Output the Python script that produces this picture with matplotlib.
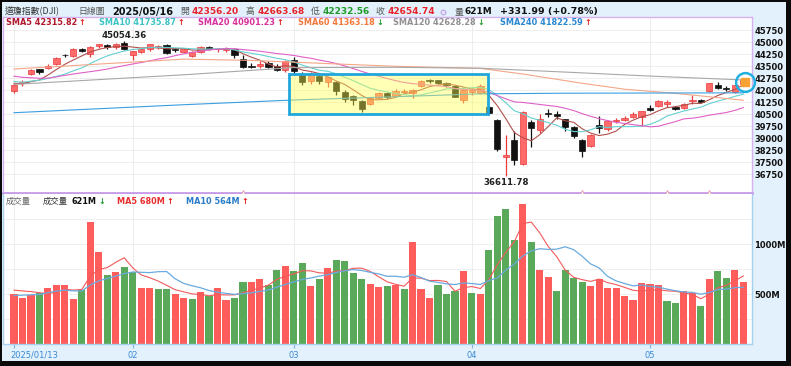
import matplotlib
matplotlib.use("Agg")
import matplotlib.pyplot as plt
import matplotlib.transforms as mtrans
import numpy as np
import pandas as pd
from matplotlib.patches import Rectangle

W, H = 791, 366
plt.rcParams['font.family'] = ['DejaVu Sans', 'Noto Sans CJK TC']
CJK = ['Noto Sans CJK TC', 'DejaVu Sans']

# ---------------- data ----------------
prior_closes = [43914, 43828, 43717, 43450, 42327, 42342, 42840, 42906, 43297, 43325,
                42992, 42574, 42544, 42392, 42732, 42706, 42528, 42635, 41938]
prior_volumes = [420, 450, 470, 380, 430, 500, 520, 560, 610]

opens = [41950, 42420, 42990, 43290, 43370, 43600, 44180, 44150, 44560, 44220, 44720, 44800, 44700, 44920,
         44200, 44400, 44560, 44700, 44790, 44560, 44400, 44150, 44370, 44700, 44540, 44500, 44550, 43950,
         43500, 43530, 43660, 43520, 43260,
         43900, 42940, 42560, 42900, 42520, 42500, 41850, 41600, 41300, 41100, 41500, 41790, 41640, 41870,
         41800, 42250, 42600, 42600, 42440, 42250, 41400,
         41900, 41800, 40960, 40100, 37800, 38900, 37400, 40000, 39500, 40560, 40500, 40170, 39700, 38900,
         38500, 39800, 39550, 40050, 40150, 40300, 40300,
         40900, 41000, 41150, 40950, 40900, 41300, 41370, 41950, 42300, 42150, 41850, 42356.20]
highs = [42350, 42630, 43300, 43330, 43610, 44050, 44250, 44600, 44640, 44760, 44900, 44870, 44950, 45054.36,
         44450, 44600, 44900, 44830, 44900, 44620, 44620, 44420, 44720, 44770, 44640, 44700, 44600, 44200,
         43700, 43800, 43800, 43650, 43880,
         44050, 43100, 43150, 43000, 42900, 42560, 42000, 41700, 41350, 41550, 41900, 41900, 42050, 42050,
         42050, 42650, 42700, 42650, 42500, 42300, 42100,
         42100, 42380, 41000, 40170, 39207, 39420, 40700, 40100, 40500, 40790, 40700, 40200, 39760, 38950,
         39250, 40375, 40150, 40250, 40350, 40600, 40700,
         41050, 41400, 41350, 40980, 41200, 41700, 41450, 42420, 42470, 42250, 42330, 42663.68]
lows = [41840, 42230, 42950, 43030, 43300, 43550, 44050, 44080, 44370, 44050, 44610, 44540, 44560, 44520,
        43880, 44300, 44450, 44580, 44250, 44380, 44370, 44080, 44300, 44500, 44380, 44380, 43980, 43380,
        43380, 43350, 43350, 43200, 43150,
        42970, 42300, 42380, 42350, 42200, 41690, 41250, 41060, 40650, 41050, 41450, 41450, 41600, 41800,
        41480, 42200, 42450, 42350, 42200, 41550, 41170,
        41700, 41750, 40500, 38200, 36611.78, 37300, 37300, 38460, 39300, 40290, 40200, 39440, 38980, 37830,
        38450, 39300, 39450, 39950, 40050, 40250, 39750,
        40700, 40950, 40950, 40750, 40800, 41100, 41200, 41900, 42050, 41950, 41800, 42232.56]
closes = [42297, 42518, 43221, 43153, 43488, 44025, 44157, 44566, 44424, 44713, 44850, 44714, 44882, 44545,
          44421, 44556, 44873, 44747, 44303, 44470, 44593, 44368, 44711, 44546, 44556, 44628, 44177, 43428,
          43461, 43621, 43433, 43240, 43841,
          43191, 42520, 43006, 42579, 42802, 41912, 41433, 41350, 40813, 41488, 41841, 41581, 41965, 41953,
          41985, 42583, 42587, 42455, 42300, 41584, 42002,
          41989, 42226, 40546, 38315, 37966, 37646, 40608, 39594, 40213, 40525, 40369, 39669, 39142, 38170,
          39187, 39607, 40093, 40114, 40228, 40528, 40669,
          40753, 41317, 41219, 40829, 41114, 41368, 41249, 42410, 42141, 42051, 42323, 42654.74]
volumes = [503, 460, 486, 506, 556, 593, 590, 453, 536, 1223, 916, 693, 716, 766, 716, 563, 556, 546, 553, 496,
           460, 450, 520, 483, 556, 443, 456, 623, 620, 653, 593, 743, 783, 733, 813, 583, 646, 763, 840, 826,
           713, 650, 603, 570, 576, 586,
           553, 1020, 553, 460, 593, 500, 533, 733, 513, 496, 943, 1283, 1350, 1043, 1403, 1020, 740, 670, 533,
           736, 656, 623, 583, 646, 560, 560, 483, 436, 610, 596, 590, 426, 413, 533, 513, 380, 653, 730, 660,
           736, 621]

sma60_idx = [0, 10, 20, 28, 37, 45, 55, 60, 67, 72, 78, 86]
sma60_val = [43310, 43620, 43930, 43850, 43650, 43480, 43350, 43000, 42420, 42050, 41790, 41363]
sma120_idx = [0, 20, 33, 45, 55, 65, 75, 86]
sma120_val = [42350, 42950, 43400, 43420, 43360, 43120, 42870, 42628]
sma240_idx = [0, 10, 20, 33, 45, 55, 65, 75, 86]
sma240_val = [40580, 40830, 41080, 41375, 41580, 41760, 41800, 41810, 41823]

tick_idx = [0, 14, 33, 54, 75]
tick_lbl = ['2025/01/13', '02', '03', '04', '05']
price_ticks = [36750, 37500, 38250, 39000, 39750, 40500, 41250, 42000, 42750, 43500, 44250, 45000, 45750]
vol_ticks = [500, 1000]
vol_tick_lbl = ['500M', '1000M']
event_idx = [27, 67, 77, 82]
box_x = (32.4, 55.9)
box_y = (40500, 43000)

# ---------------- derived ----------------
n = len(closes)
x = np.arange(n)
o, h, l, c = map(np.array, (opens, highs, lows, closes))
v = np.array(volumes, float)
allc = pd.Series(prior_closes + closes, dtype=float)
sma5 = allc.rolling(5).mean().values[-n:]
sma10 = allc.rolling(10).mean().values[-n:]
sma20 = allc.rolling(20).mean().values[-n:]
allv = pd.Series(prior_volumes + volumes, dtype=float)
vma5 = allv.rolling(5).mean().values[-n:]
vma10 = allv.rolling(10).mean().values[-n:]
prevc = np.array([prior_closes[-1]] + closes[:-1])

# ---------------- figure ----------------
fig = plt.figure(figsize=(W / 100, H / 100), dpi=100)
fig.patch.set_facecolor('#e2f1fb')

def fx(px):
    return px / W

def fy(py):
    return 1 - py / H

XL = (-1.297, 87.03)
ax = fig.add_axes([fx(3), fy(193), 749 / W, 176 / H])
axv = fig.add_axes([fx(3), fy(344), 749 / W, 150 / H])

# price panel
ax.set_facecolor('white')
ax.set_xlim(*XL)
ax.set_ylim(35562.5, 46562.5)
for yv in price_ticks:
    ax.axhline(yv, color='#efefef', lw=0.7, zorder=0)
for xi in tick_idx:
    ax.axvline(xi, color='#ececec', lw=0.7, zorder=0)

RED_F, RED_E, BLK = '#ff6a6a', '#e83a3a', '#111111'
for i in range(n):
    up = c[i] >= o[i]
    ec = RED_E if up else BLK
    fc = RED_F if up else BLK
    ax.vlines(x[i], l[i], h[i], color=ec, lw=0.9, zorder=3)
    bot = min(o[i], c[i])
    ht = max(abs(c[i] - o[i]), 45)
    ax.bar(x[i], ht, bottom=bot, width=0.74, color=fc, edgecolor=ec, lw=0.5, zorder=4)

ax.plot(x, sma5, color='#b0504c', lw=0.8, zorder=5)
ax.plot(x, sma10, color='#66d0d0', lw=0.8, zorder=5)
ax.plot(x, sma20, color='#e060c8', lw=0.8, zorder=5)
ax.plot(sma60_idx, sma60_val, color='#f4a688', lw=0.8, zorder=5)
ax.plot(sma120_idx, sma120_val, color='#a8a8a8', lw=0.8, zorder=5)
ax.plot(sma240_idx, sma240_val, color='#3a9ee0', lw=0.8, zorder=5)

# highlight box
ax.add_patch(Rectangle((box_x[0], box_y[0]), box_x[1] - box_x[0], box_y[1] - box_y[0],
                       facecolor='#ffff50', alpha=0.42, edgecolor='none', zorder=6))
ax.add_patch(Rectangle((box_x[0], box_y[0]), box_x[1] - box_x[0], box_y[1] - box_y[0],
                       facecolor='none', edgecolor='#1fa6dc', lw=2, zorder=7))

# end circle
ax.plot([n - 1 + 0.2], [42520], marker='o', ms=13.5, mfc='none', mec='#22b0e0', mew=1.8,
        zorder=9, clip_on=False)
ax.plot([n - 1 + 0.2], [42480], marker='s', ms=5.5, color='#f7a235', zorder=9, clip_on=False)

# annotations
imax = int(np.argmax(h)); imin = int(np.argmin(l))
ax.annotate(f'{h[imax]:.2f}', (imax, h[imax]), xytext=(0, 1), textcoords='offset points',
            ha='center', va='bottom', fontsize=6.2, fontweight='bold', color='#222222', zorder=10)
ax.annotate(f'{l[imin]:.2f}', (imin, l[imin]), xytext=(0, -1.5), textcoords='offset points',
            ha='center', va='top', fontsize=6.2, fontweight='bold', color='#222222', zorder=10)

# event markers on panel border
ax.plot(event_idx, [35562.5] * len(event_idx), ls='none', marker='^', ms=4, mfc='white',
        mec='#e8a0b0', mew=0.7, clip_on=False, zorder=12)

ax.yaxis.tick_right()
ax.set_yticks(price_ticks)
ax.set_yticklabels([str(t) for t in price_ticks], fontsize=6, fontweight='bold', color='#111111')
ax.tick_params(axis='y', length=0, pad=1.5)
ax.set_xticks([])
for s in ax.spines.values():
    s.set_color('#d8b0ec'); s.set_linewidth(1)
ax.spines['bottom'].set_linewidth(2)
ax.spines['bottom'].set_color('#c89ce8')

# volume panel
axv.set_facecolor('white')
axv.set_xlim(*XL)
axv.set_ylim(0, 1500)
for yv in [250, 500, 750, 1000, 1250]:
    axv.axhline(yv, color='#efefef', lw=0.7, zorder=0)
for xi in tick_idx:
    axv.axvline(xi, color='#ececec', lw=0.7, zorder=0)
vcol = np.where(c >= prevc, '#ff5c5c', '#5aa95a')
axv.bar(x, v, width=0.84, color=vcol, zorder=2)
axv.plot(x, vma5, color='#f25a5a', lw=0.8, zorder=3)
axv.plot(x, vma10, color='#6aaade', lw=0.9, zorder=3)
axv.yaxis.tick_right()
axv.set_yticks(vol_ticks)
axv.set_yticklabels(vol_tick_lbl, fontsize=6, fontweight='bold', color='#111111')
axv.tick_params(axis='y', length=0, pad=1.5)
axv.set_xticks(tick_idx)
axv.set_xticklabels(tick_lbl, fontsize=6, color='#3a8ad6')
axv.tick_params(axis='x', length=3, color='#7ab4e0', pad=2)
lbl0 = axv.get_xticklabels()[0]
lbl0.set_ha('left')
lbl0.set_transform(lbl0.get_transform() + mtrans.ScaledTranslation(-4 / 100, 0, fig.dpi_scale_trans))
for s in axv.spines.values():
    s.set_color('#a8d0ee'); s.set_linewidth(1)
axv.spines['top'].set_visible(False)

# ---------------- texts ----------------
renderer = fig.canvas.get_renderer()

def seq(x_px, y_px, parts, size):
    xp = x_px
    for s, color, weight, gap in parts:
        t = fig.text(fx(xp), fy(y_px), s, color=color, fontsize=size, fontweight=weight,
                     ha='left', va='center')
        xp += t.get_window_extent(renderer=renderer).width + gap

def T(px, py, s, color='#333333', size=6.4, weight='normal', family=None):
    kw = dict(color=color, fontsize=size, fontweight=weight, ha='left', va='center')
    if family:
        kw['family'] = family
    fig.text(fx(px), fy(py), s, **kw)

# header
HY = 11.5
T(5, HY, '道瓊指數(DJI)', '#333333', 6.4, family=CJK)
T(78, HY, '日線圖', '#555555', 6.4, family=CJK)
T(112, HY, '2025/05/16', '#111111', 7.0, 'bold')
T(180, HY, '開', '#555555', 6.4, family=CJK)
T(192, HY, '42356.20', '#e8222a', 6.5, 'bold')
T(246, HY, '高', '#555555', 6.4, family=CJK)
T(258, HY, '42663.68', '#e8222a', 6.5, 'bold')
T(311, HY, '低', '#555555', 6.4, family=CJK)
T(323, HY, '42232.56', '#1f9a2a', 6.5, 'bold')
T(375, HY, '收', '#555555', 6.4, family=CJK)
T(388, HY, '42654.74', '#e8222a', 6.5, 'bold')
fig.lines.append(plt.Line2D([fx(443)], [fy(HY)], marker='o', ms=3.5, mfc='#e8e0f8', mec='#b8a8e8',
                            mew=0.8, transform=fig.transFigure))
T(455, HY, '量', '#555555', 6.4, family=CJK)
T(465, HY, '621M', '#111111', 6.5, 'bold')
T(500, HY, '+331.99 (+0.78%)', '#111111', 6.8, 'bold')

# SMA legend
LY = 22.5
UP, DN = '↑', '↓'
RA, GA = '#e02020', '#1f9a2a'
seq(6, LY, [('SMA5 42315.82', '#b0182c', 'bold', 1.5), (UP, RA, 'bold', 0)], 5.9)
seq(99, LY, [('SMA10 41735.87', '#3cc4c4', 'bold', 1.5), (UP, RA, 'bold', 0)], 5.9)
seq(198, LY, [('SMA20 40901.23', '#d8309c', 'bold', 1.5), (UP, RA, 'bold', 0)], 5.9)
seq(298, LY, [('SMA60 41363.18', '#f0783a', 'bold', 1.5), (DN, GA, 'bold', 0)], 5.9)
seq(393, LY, [('SMA120 42628.28', '#909090', 'bold', 1.5), (DN, GA, 'bold', 0)], 5.9)
seq(500, LY, [('SMA240 41822.59', '#2a88d0', 'bold', 1.5), (UP, RA, 'bold', 0)], 5.9)

# volume legend
VY = 201
T(6, VY, '成交量', '#666666', 6.0, family=CJK)
T(43, VY, '成交量', '#333333', 6.0, family=CJK)
seq(72, VY, [('621M', '#111111', 'bold', 1.5), (DN, GA, 'bold', 0)], 5.9)
seq(117, VY, [('MA5 680M', '#e83030', 'bold', 1.5), (UP, RA, 'bold', 0)], 5.9)
seq(186, VY, [('MA10 564M', '#2a7cc8', 'bold', 1.5), (UP, RA, 'bold', 0)], 5.9)

# outer black frame
for (x0, y0, w, hh) in [(0, 0, 2, H), (0, 0, W, 1.5), (786, 0, 5, H), (0, 361, W, 5)]:
    fig.patches.append(Rectangle((fx(x0), fy(y0 + hh)), w / W, hh / H, transform=fig.transFigure,
                                 facecolor='#0a0a0a', edgecolor='none', zorder=20))

fig.savefig('out.png', dpi=100, facecolor=fig.get_facecolor())
